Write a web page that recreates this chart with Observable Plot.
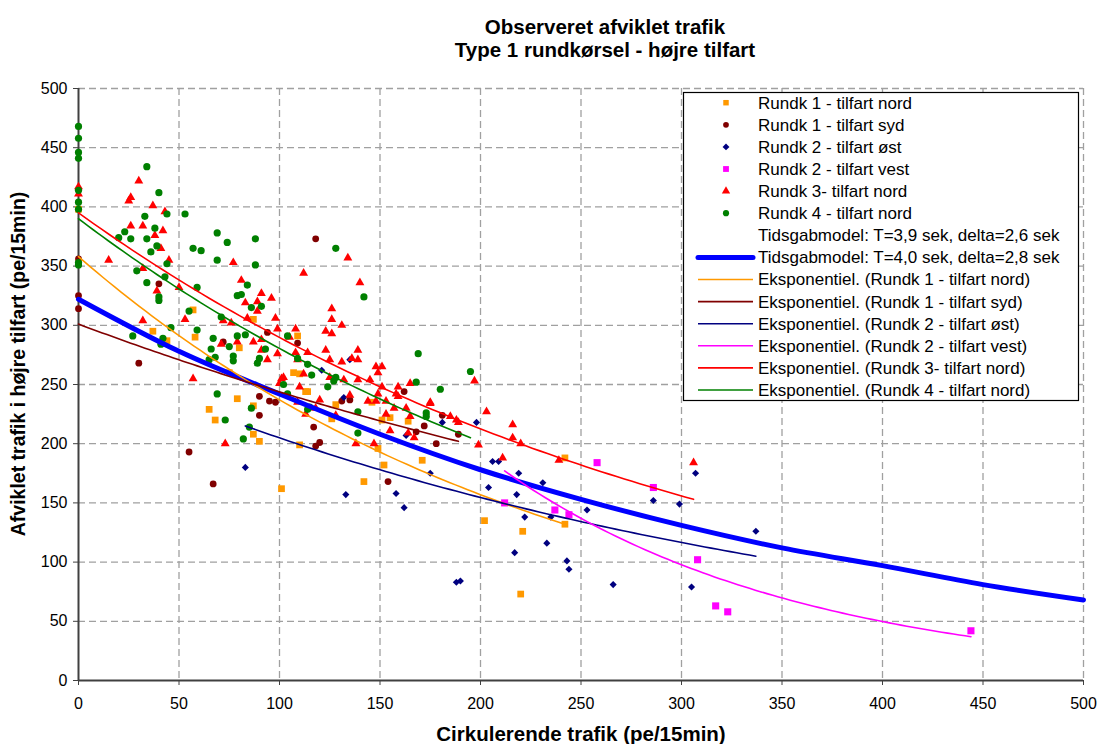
<!DOCTYPE html>
<html><head><meta charset="utf-8">
<script src="https://cdn.jsdelivr.net/npm/d3@7"></script>
<script src="https://cdn.jsdelivr.net/npm/@observablehq/plot@0.6"></script>
<style>
body{margin:0;background:#fff;font-family:"Liberation Sans",Arial,sans-serif;}
#wrap{position:relative;width:1097px;height:744px;overflow:hidden;background:#fff;}
#title{position:absolute;left:605px;top:15px;transform:translateX(-50%);white-space:nowrap;text-align:center;font-weight:bold;font-size:20.5px;line-height:23px;}
#chart{position:absolute;left:0;top:75px;}
#xlabel{position:absolute;left:581px;top:722px;transform:translateX(-50%);white-space:nowrap;font-weight:bold;font-size:20.5px;}
#ylabel{position:absolute;left:18px;top:364px;transform:translate(-50%,-50%) rotate(-90deg);white-space:nowrap;font-weight:bold;font-size:19.5px;}
#legend{position:absolute;left:0;top:0;}
</style></head><body>
<div id="wrap">
<div id="title">Observeret afviklet trafik<br>Type 1 rundkørsel - højre tilfart</div>
<div id="chart"></div>
<div id="xlabel">Cirkulerende trafik (pe/15min)</div>
<div id="ylabel">Afviklet trafik i højre tilfart (pe/15min)</div>
<svg id="legend" width="1097" height="744"></svg>
</div>
<script>
// ---- data ----
const xTicks = [0,50,100,150,200,250,300,350,400,450,500];
const yTicks = [0,50,100,150,200,250,300,350,400,450,500];

const rundk1Nord = [[0,398],[37,295],[44,287],[57,313],[58,290],[80,281],[75,260],[79,238],[65,229],[68,220],[87,232],[87,208],[90,202],[87,305],[109,291],[107,260],[110,259],[113,244],[114,244],[128,233],[126,221],[146,235],[151,220],[155,222],[164,219],[149,196],[152,182],[171,186],[142,168],[202,135],[221,126],[220,73],[242,188],[242,132],[110,199],[101,162]];
const rundk1Syd = [[0,356],[0,325],[0,314],[30,268],[55,193],[72,286],[40,335],[90,240],[90,224],[95,236],[98,235],[94,294],[109,285],[117,214],[131,236],[135,237],[118,198],[120,201],[67,166],[118,373],[162,244],[172,215],[168,210],[178,200],[181,224],[189,208],[154,168]];
const rundk2Ost = [[83,180],[121,262],[135,271],[132,239],[133,157],[163,207],[181,218],[198,218],[175,175],[158,158],[162,146],[204,163],[206,185],[209,185],[219,175],[218,157],[231,167],[222,138],[235,138],[233,116],[217,108],[243,101],[244,94],[188,83],[190,84],[266,81],[253,144],[286,152],[299,149],[307,175],[337,126],[305,79]];
const rundk2Vest = [[212,150],[237,144],[244,140],[258,184],[286,163],[308,102],[317,63],[323,58],[444,42]];
const rundk3Nord = [[0,417],[0,411],[30,422],[26,408],[25,405],[37,401],[43,396],[26,384],[32,384],[42,380],[38,376],[41,365],[15,355],[45,355],[32,348],[39,329],[50,332],[32,304],[53,305],[57,255],[73,200],[72,304],[76,302],[71,284],[79,286],[81,338],[83,319],[87,286],[89,312],[84,306],[77,353],[134,357],[112,344],[140,336],[91,327],[96,323],[89,320],[126,314],[126,305],[131,300],[123,295],[126,293],[98,306],[99,297],[108,297],[91,279],[99,276],[108,277],[114,277],[123,279],[131,269],[136,272],[139,271],[139,279],[101,255],[110,248],[100,251],[109,235],[120,237],[112,259],[125,256],[132,254],[139,254],[145,254],[148,265],[151,265],[149,242],[148,236],[153,236],[159,248],[158,242],[165,251],[175,235],[128,224],[118,230],[135,241],[91,288],[105,290],[94,271],[109,271],[125,271],[102,256],[113,225],[149,260],[197,253],[151,248],[159,240],[144,236],[175,234],[153,225],[157,230],[165,223],[163,230],[155,211],[164,209],[167,205],[147,200],[138,200],[185,223],[188,220],[189,218],[203,227],[199,199],[211,188],[216,216],[216,205],[220,200],[239,186],[306,184]];
const rundk4Nord = [[0,468],[0,458],[0,446],[0,441],[0,414],[0,404],[0,398],[0,353],[0,351],[34,434],[40,412],[33,392],[44,394],[53,394],[23,379],[20,374],[26,373],[38,382],[34,373],[39,367],[36,362],[57,365],[61,363],[69,378],[69,355],[44,352],[29,346],[43,341],[34,336],[40,324],[59,332],[74,370],[88,373],[88,351],[84,334],[40,321],[27,291],[42,289],[41,284],[46,298],[55,312],[59,296],[67,289],[66,280],[65,271],[68,273],[75,282],[77,274],[77,270],[71,307],[79,291],[79,325],[81,326],[86,315],[83,292],[89,268],[90,272],[69,242],[73,220],[86,230],[82,204],[85,214],[91,316],[93,280],[104,291],[109,272],[114,267],[116,258],[128,256],[127,253],[124,248],[102,250],[104,242],[115,231],[114,229],[139,209],[128,365],[142,324],[139,227],[169,276],[173,226],[195,261],[168,252],[180,246],[173,223]];

// Tidsgabmodel T=4,0 / delta=2,8 read at these x values
const tidsgabX = [0,50,100,150,200,250,300,350,400,450,500];
const tidsgabY = [322,278,242,208,178,153,131,112,97,81,68];

// Exponential trendlines: [xStart, yStart, xEnd, yEnd]
const trendR1Nord = [0,358,242,132];
const trendR1Syd = [0,301,189,202];
const trendR2Ost = [83,215,337,105];
const trendR2Vest = [212,177,444,37];
const trendR3Nord = [0,395,306,153];
const trendR4Nord = [0,390,195,205];

const legendLabels = [
  "Rundk 1 - tilfart nord","Rundk 1 - tilfart syd","Rundk 2 - tilfart øst","Rundk 2 - tilfart vest",
  "Rundk 3- tilfart nord","Rundk 4 - tilfart nord",
  "Tidsgabmodel: T=3,9 sek, delta=2,6 sek","Tidsgabmodel: T=4,0 sek, delta=2,8 sek",
  "Eksponentiel. (Rundk 1 - tilfart nord)","Eksponentiel. (Rundk 1 - tilfart syd)",
  "Eksponentiel. (Rundk 2 - tilfart øst)","Eksponentiel. (Rundk 2 - tilfart vest)",
  "Eksponentiel. (Rundk 3- tilfart nord)","Eksponentiel. (Rundk 4 - tilfart nord)"
];

// ---- styles ----
const C = {orange:"#FF9900", darkred:"#800000", navy:"#000080", magenta:"#FF00FF", red:"#FF0000", green:"#008000", blue:"#0000FF"};

function expTrend([x0,y0,x1,y1]){
  const b = Math.log(y1/y0)/(x1-x0);
  const n = 80, pts = [];
  for(let i=0;i<=n;i++){ const x = x0+(x1-x0)*i/n; pts.push([x, y0*Math.exp(b*(x-x0))]); }
  return pts;
}
const tidsgab = tidsgabX.map((x,i)=>[x,tidsgabY[i]]);
const X = d=>d[0], Y = d=>d[1];
const grid = {stroke:"#a0a0a0", strokeWidth:1.3, strokeDasharray:"7,4"};

const plot = Plot.plot({
  width:1097, height:669, marginLeft:78, marginRight:14, marginTop:13, marginBottom:64,
  x:{domain:[0,500]}, y:{domain:[0,500]},
  style:{fontFamily:'"Liberation Sans", Arial, sans-serif', fontSize:"16px", color:"black", background:"transparent", overflow:"visible"},
  marks:[
    Plot.ruleX(xTicks.filter(v=>v>0), grid),
    Plot.ruleY(yTicks.filter(v=>v>0), grid),
    Plot.axisX({ticks:xTicks, tickSize:5, tickPadding:12, label:null, stroke:"#404040", tickFormat:d=>d}),
    Plot.axisY({ticks:yTicks, tickSize:5, tickPadding:6, label:null, stroke:"#404040", tickFormat:d=>d}),
    Plot.ruleX([0], {stroke:"#404040", strokeWidth:2}),
    Plot.ruleY([0], {stroke:"#404040", strokeWidth:2}),
    Plot.dot(rundk1Nord, {x:X, y:Y, symbol:"square", r:3.8, fill:C.orange}),
    Plot.dot(rundk1Syd, {x:X, y:Y, symbol:"circle", r:3.4, fill:C.darkred}),
    Plot.dot(rundk2Ost, {x:X, y:Y, symbol:"diamond2", r:3.2, fill:C.navy, stroke:"none"}),
    Plot.dot(rundk2Vest, {x:X, y:Y, symbol:"square", r:4, fill:C.magenta}),
    Plot.dot(rundk3Nord, {x:X, y:Y, symbol:"triangle", r:3.3, fill:C.red}),
    Plot.dot(rundk4Nord, {x:X, y:Y, symbol:"circle", r:3.6, fill:C.green}),
    Plot.line(tidsgab, {x:X, y:Y, stroke:C.blue, strokeWidth:5, curve:"monotone-x"}),
    Plot.line(expTrend(trendR1Nord), {x:X, y:Y, stroke:C.orange, strokeWidth:1.6}),
    Plot.line(expTrend(trendR1Syd), {x:X, y:Y, stroke:C.darkred, strokeWidth:1.6}),
    Plot.line(expTrend(trendR2Ost), {x:X, y:Y, stroke:C.navy, strokeWidth:1.6}),
    Plot.line(expTrend(trendR2Vest), {x:X, y:Y, stroke:C.magenta, strokeWidth:1.6}),
    Plot.line(expTrend(trendR3Nord), {x:X, y:Y, stroke:C.red, strokeWidth:1.6}),
    Plot.line(expTrend(trendR4Nord), {x:X, y:Y, stroke:C.green, strokeWidth:1.6})
  ]
});
document.getElementById("chart").appendChild(plot);

// ---- legend ----
const lg = d3.select("#legend");
const L = {x:683, y:92, w:395, h:308, row0:102.7, step:22.1, sym:726, l0:698, l1:753, tx:758};
lg.append("rect").attr("x",L.x+0.5).attr("y",L.y+0.5).attr("width",L.w).attr("height",L.h)
  .attr("fill","white").attr("stroke","black").attr("stroke-width",1.2);
const kinds = [
  {t:"sym", s:d3.symbolSquare, size:30, c:C.orange},
  {t:"sym", s:d3.symbolCircle, size:26, c:C.darkred},
  {t:"sym", s:d3.symbolDiamond2, size:30, c:C.navy},
  {t:"sym", s:d3.symbolSquare, size:34, c:C.magenta},
  {t:"sym", s:d3.symbolTriangle, size:30, c:C.red},
  {t:"sym", s:d3.symbolCircle, size:30, c:C.green},
  {t:"none"},
  {t:"line", c:C.blue, w:5},
  {t:"line", c:C.orange, w:1.6},{t:"line", c:C.darkred, w:1.6},{t:"line", c:C.navy, w:1.6},
  {t:"line", c:C.magenta, w:1.6},{t:"line", c:C.red, w:1.6},{t:"line", c:C.green, w:1.6}
];
legendLabels.forEach((lab,i)=>{
  const cy = L.row0 + i*L.step;
  const k = kinds[i];
  if(k.t==="sym"){
    lg.append("path").attr("d", d3.symbol(k.s, k.size)()).attr("transform",`translate(${L.sym},${cy})`).attr("fill",k.c);
  } else if(k.t==="line"){
    lg.append("line").attr("x1",L.l0).attr("x2",L.l1).attr("y1",cy).attr("y2",cy)
      .attr("stroke",k.c).attr("stroke-width",k.w).attr("stroke-linecap", k.w>3?"round":"butt");
  }
  lg.append("text").attr("x",L.tx).attr("y",cy).attr("dy","0.35em")
    .attr("font-family",'"Liberation Sans", Arial, sans-serif').attr("font-size","17px").text(lab);
});
</script>
</body></html>
